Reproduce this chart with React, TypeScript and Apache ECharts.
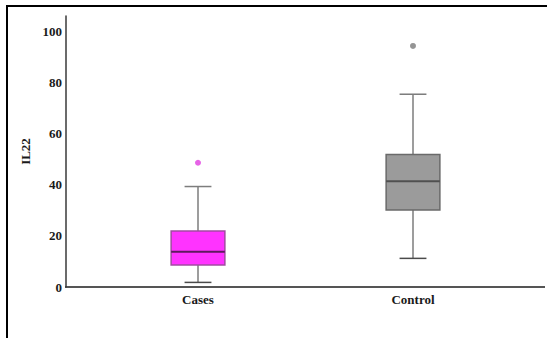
import React, { useEffect, useRef } from "react";
import * as echarts from "echarts";

const categories = ["Cases", "Control"];
// [low whisker, Q1, median, Q3, high whisker]
const boxValues = [
  [1.8, 8.6, 13.8, 21.9, 39.3],
  [11.2, 30.1, 41.4, 51.8, 75.4],
];
const outliers = [
  ["Cases", 48.6],
  ["Control", 94.3],
];
const yTicks = [0, 20, 40, 60, 80, 100];

const fills = ["#ff33ff", "#9b9b9b"];
const borders = ["#a24aa2", "#6a6a6a"];
const medians = ["#5e1a5e", "#505050"];
const dotColors = ["#e03ce0", "#7a7a7a"];

export default function App() {
  const ref = useRef<HTMLDivElement>(null);
  useEffect(() => {
    if (!ref.current) return;
    const chart = echarts.init(ref.current, undefined, { renderer: "svg" });
    const serif = "Liberation Serif";
    chart.setOption({
      animation: false,
      backgroundColor: "#ffffff",
      grid: { left: 90.5, top: 16, width: 430, bottom: 51, containLabel: false },
      xAxis: {
        type: "category",
        data: categories,
        boundaryGap: true,
        axisLine: { show: false },
        axisTick: { show: false },
        splitLine: { show: false },
        axisLabel: {
          margin: 6,
          color: "#1a1a1a",
          fontFamily: serif,
          fontWeight: "bold",
          fontSize: 13,
        },
      },
      yAxis: {
        type: "value",
        min: 0,
        max: 106,
        interval: 20,
        offset: 24.5,
        name: "IL22",
        nameLocation: "middle",
        nameGap: 28,
        nameRotate: 90,
        nameTextStyle: {
          color: "#1a1a1a",
          fontFamily: serif,
          fontWeight: "bold",
          fontSize: 13,
        },
        axisLine: { show: true, lineStyle: { color: "#3a3a3a", width: 1.5 } },
        axisTick: { show: false },
        splitLine: { show: false },
        axisLabel: {
          margin: 4,
          color: "#1a1a1a",
          fontFamily: serif,
          fontWeight: "bold",
          fontSize: 13,
          showMaxLabel: false,
          formatter: (v: number) => (yTicks.indexOf(v) >= 0 ? String(v) : ""),
        },
      },
      series: [
        {
          type: "custom",
          data: boxValues.map((b, i) => [i, ...b]),
          encode: { x: 0, y: [1, 2, 3, 4, 5] },
          renderItem: (params: any, api: any) => {
            const idx = api.value(0);
            const band = api.size([1, 0])[0];
            const half = band * 0.125;
            const cap = half / 2;
            const pLow = api.coord([idx, api.value(1)]);
            const pQ1 = api.coord([idx, api.value(2)]);
            const pMed = api.coord([idx, api.value(3)]);
            const pQ3 = api.coord([idx, api.value(4)]);
            const pHigh = api.coord([idx, api.value(5)]);
            const cx = pLow[0];
            const wStyle = { stroke: "#7d7d7d", lineWidth: 1.5 };
            return {
              type: "group",
              children: [
                { type: "line", shape: { x1: cx, y1: pLow[1], x2: cx, y2: pQ1[1] }, style: wStyle },
                { type: "line", shape: { x1: cx, y1: pQ3[1], x2: cx, y2: pHigh[1] }, style: wStyle },
                { type: "line", shape: { x1: cx - cap, y1: pLow[1], x2: cx + cap, y2: pLow[1] }, style: { stroke: "#4a4a4a", lineWidth: 1.5 } },
                { type: "line", shape: { x1: cx - cap, y1: pHigh[1], x2: cx + cap, y2: pHigh[1] }, style: wStyle },
                {
                  type: "rect",
                  shape: { x: cx - half, y: pQ3[1], width: half * 2, height: pQ1[1] - pQ3[1] },
                  style: { fill: fills[idx], stroke: borders[idx], lineWidth: 1.5 },
                },
                {
                  type: "line",
                  shape: { x1: cx - half, y1: pMed[1], x2: cx + half, y2: pMed[1] },
                  style: { stroke: medians[idx], lineWidth: 2 },
                },
              ],
            };
          },
          z: 3,
        },
        {
          type: "scatter",
          data: outliers.map((o, i) => ({
            value: o,
            itemStyle: { color: dotColors[i] },
          })),
          symbol: "circle",
          symbolSize: 6,
          z: 4,
        },
      ],
      graphic: [
        {
          type: "line",
          shape: { x1: 6, y1: 6, x2: 547, y2: 6 },
          style: { stroke: "#000000", lineWidth: 2 },
        },
        {
          type: "line",
          shape: { x1: 7, y1: 5, x2: 7, y2: 338 },
          style: { stroke: "#000000", lineWidth: 2 },
        },
        {
          type: "line",
          shape: { x1: 65, y1: 287, x2: 545, y2: 287 },
          style: { stroke: "#555555", lineWidth: 2 },
        },
      ],
    });
    return () => chart.dispose();
  }, []);
  return (
    <div
      ref={ref}
      style={{ position: "fixed", left: 0, top: 0, width: 547, height: 338 }}
    />
  );
}
